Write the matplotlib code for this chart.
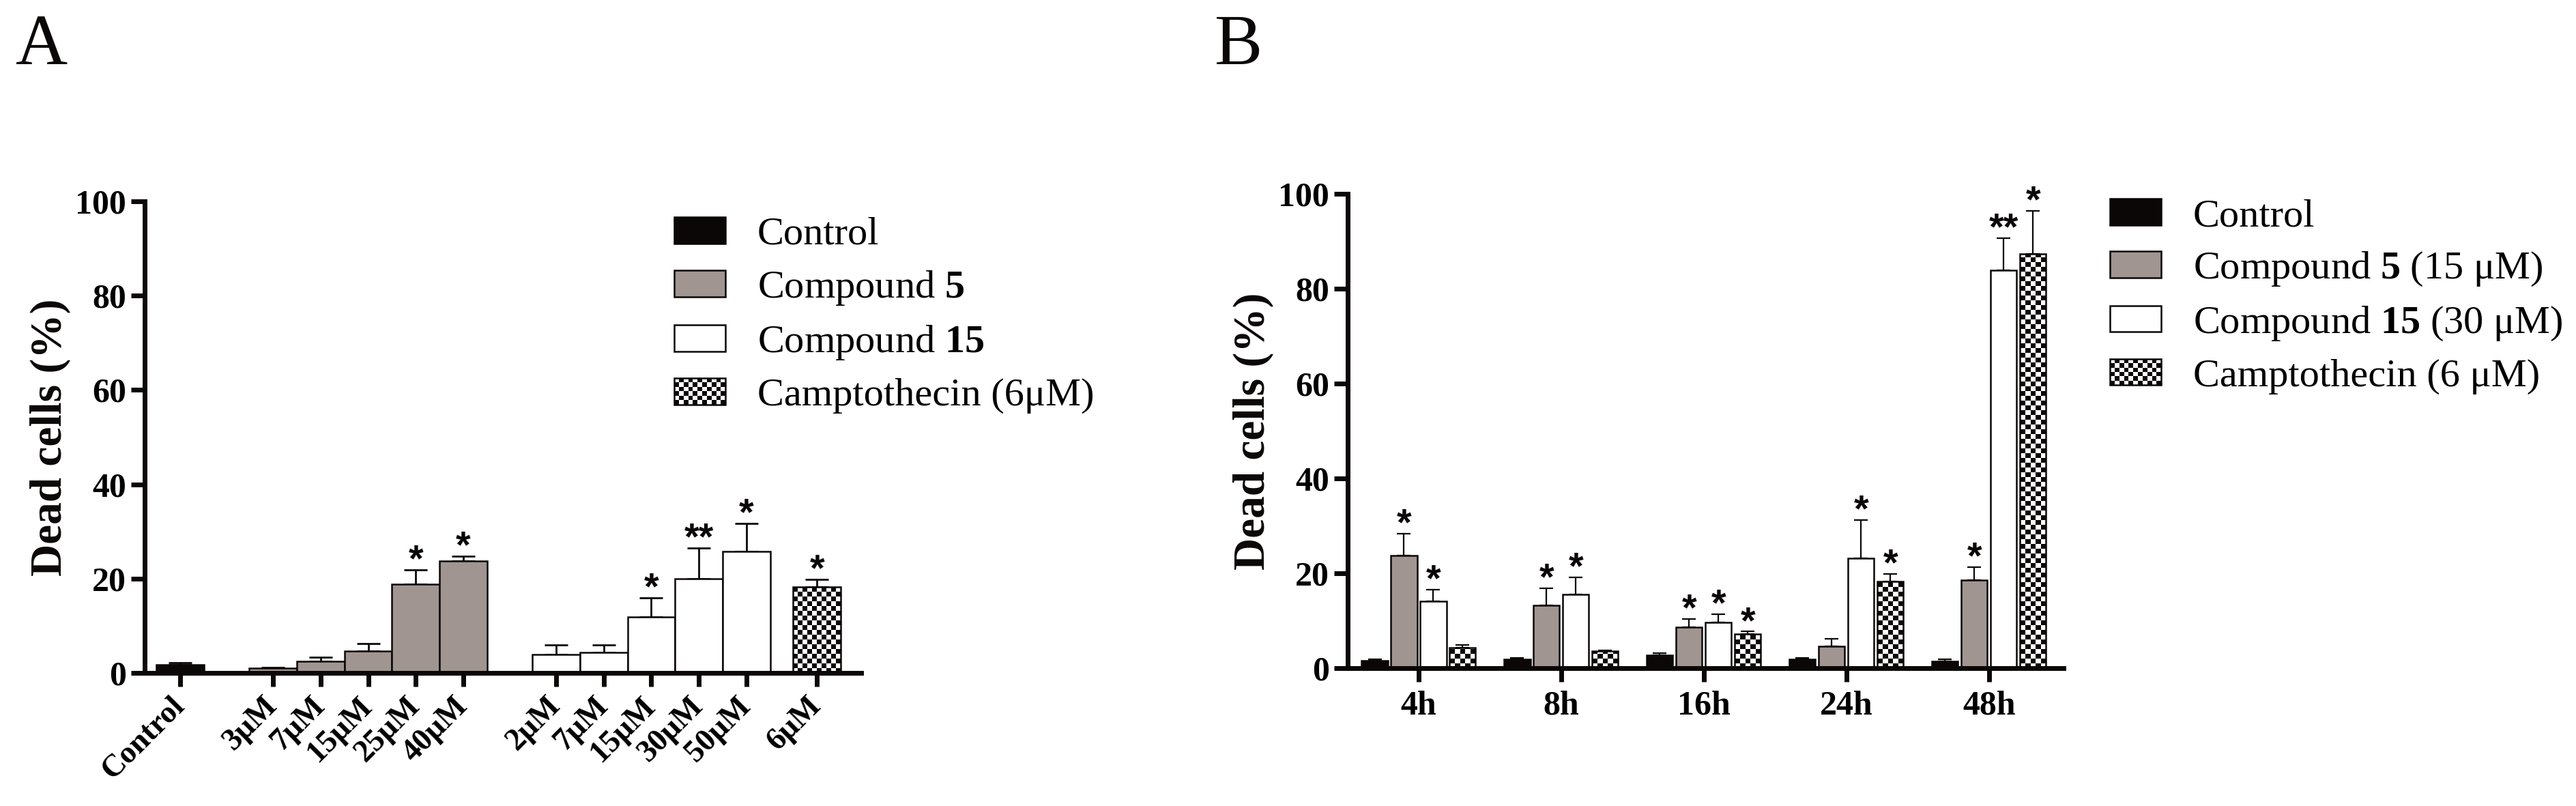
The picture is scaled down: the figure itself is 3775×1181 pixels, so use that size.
import numpy as np
import matplotlib
matplotlib.use("Agg")
import matplotlib.pyplot as plt
from matplotlib.patches import Patch, Rectangle
from matplotlib.colors import ListedColormap
from matplotlib.legend_handler import HandlerBase

plt.rcParams["font.family"] = ["Liberation Serif", "DejaVu Serif"]
plt.rcParams["mathtext.fontset"] = "custom"
plt.rcParams["mathtext.rm"] = "Liberation Serif"
plt.rcParams["mathtext.bf"] = "Liberation Serif:bold"

INK = "#0b0707"
GRAY = "#a09591"

# ---- panel A data (dose response) ----
a_control_val = 1.8
a_control_err = 0.3
a_c5_labels = ["3μM", "7μM", "15μM", "25μM", "40μM"]
a_c5_vals = [1.0, 2.5, 4.7, 18.8, 23.7]
a_c5_err = [0.2, 0.9, 1.5, 3.0, 1.0]
a_c5_stars = ["", "", "", "*", "*"]
a_c15_labels = ["2μM", "7μM", "15μM", "30μM", "50μM"]
a_c15_vals = [3.9, 4.3, 11.9, 20.0, 25.7]
a_c15_err = [2.1, 1.7, 4.0, 6.5, 6.0]
a_c15_stars = ["", "", "*", "**", "*"]
a_campto_label = "6μM"
a_campto_val = 18.2
a_campto_err = 1.6
a_campto_star = "*"
a_legend = ["Control", r"Compound $\mathbf{5}$", r"Compound $\mathbf{15}$",
            "Camptothecin (6μM)"]

# ---- panel B data (time course) ----
b_times = ["4h", "8h", "16h", "24h", "48h"]
b_control = [1.6, 1.8, 2.7, 1.8, 1.4]
b_control_err = [0.3, 0.4, 0.5, 0.4, 0.4]
b_c5 = [23.8, 13.2, 8.6, 4.6, 18.6]
b_c5_err = [4.6, 3.7, 1.8, 1.6, 2.7]
b_c15 = [14.1, 15.5, 9.6, 23.1, 83.9]
b_c15_err = [2.4, 3.7, 1.8, 8.1, 6.8]
b_campto = [4.3, 3.6, 7.2, 18.3, 87.4]
b_campto_err = [0.6, 0.2, 0.5, 1.6, 9.0]
b_stars = [
    ["", "", "", "", ""],
    ["*", "*", "*", "", "*"],
    ["*", "*", "*", "*", "**"],
    ["", "", "*", "*", "*"],
]
b_legend = ["Control", r"Compound $\mathbf{5}$ (15 μM)",
            r"Compound $\mathbf{15}$ (30 μM)", "Camptothecin (6 μM)"]

yticks = [0, 20, 40, 60, 80, 100]


class CheckerProxy(Patch):
    pass


class CheckerHandler(HandlerBase):
    def create_artists(self, legend, orig_handle, xdescent, ydescent,
                       width, height, fontsize, trans):
        cell = 5.0
        nx = max(1, int(round(width / cell)))
        ny = max(1, int(round(height / cell)))
        cw, ch = width / nx, height / ny
        x0, y0 = -xdescent, -ydescent
        arts = [Rectangle((x0, y0), width, height, facecolor="white",
                          edgecolor="none", transform=trans)]
        for i in range(ny):
            for j in range(nx):
                if (i + j) % 2 == 0:
                    arts.append(Rectangle((x0 + j * cw, y0 + i * ch), cw, ch,
                                          facecolor=INK, edgecolor="none",
                                          transform=trans))
        arts.append(Rectangle((x0, y0), width, height, fill=False,
                              edgecolor=INK, linewidth=1.8, transform=trans))
        return arts


def checker_bars(ax, xs, heights, width, lw, cell_px=7.0):
    bars = ax.bar(xs, heights, width, color="white", edgecolor="none", zorder=2)
    p0 = ax.transData.transform((0, 0))
    p1 = ax.transData.transform((1, 1))
    cx = cell_px / (p1[0] - p0[0])
    cy = cell_px / (p1[1] - p0[1])
    cmap = ListedColormap(["white", INK])
    for bar in bars:
        x0, w, h = bar.get_x(), bar.get_width(), bar.get_height()
        nx = max(1, int(round(w / cx)))
        ny = max(1, int(np.ceil(h / cy)))
        xe = np.linspace(x0, x0 + w, nx + 1)
        ye = np.arange(ny + 1) * cy
        cells = np.add.outer(np.arange(ny), np.arange(nx)) % 2
        mesh = ax.pcolormesh(xe, ye, cells, cmap=cmap, vmin=0, vmax=1,
                             shading="flat", zorder=2.1)
        mesh.set_clip_path(bar)
    ax.bar(xs, heights, width, fill=False, edgecolor=INK, linewidth=lw, zorder=3)


def up_errors(ax, xs, vals, errs, lw, cap):
    ax.errorbar(xs, vals, yerr=[np.zeros(len(errs)), errs], fmt="none",
                ecolor=INK, elinewidth=lw, capsize=cap, capthick=lw, zorder=1.5)


def add_stars(ax, xs, tops, marks, size):
    for x, t, m in zip(xs, tops, marks):
        if m:
            ax.annotate(m, (x, t), xytext=(0, -1), textcoords="offset points",
                        ha="center", va="baseline", fontsize=size,
                        family="Liberation Sans", fontweight="bold", color=INK)


def style_axes(ax):
    for s in ["top", "right"]:
        ax.spines[s].set_visible(False)
    for s in ["left", "bottom"]:
        ax.spines[s].set_linewidth(5)
        ax.spines[s].set_color(INK)
    ax.tick_params(axis="both", direction="out", length=14.4, width=5, color=INK)
    ax.tick_params(axis="y", pad=5, labelsize=36)
    ax.set_ylim(0, 100)
    ax.set_yticks(yticks)
    for lab in ax.get_yticklabels():
        lab.set_fontweight("bold")
    ax.set_ylabel("Dead cells (%)", fontsize=47, fontweight="bold", color=INK)
    ax.yaxis.set_label_coords(-0.103, 0.5)


def legend(ax, labels, x_px, y_px):
    handles = [Patch(facecolor=INK, edgecolor=INK, linewidth=1.8),
               Patch(facecolor=GRAY, edgecolor=INK, linewidth=1.8),
               Patch(facecolor="white", edgecolor=INK, linewidth=1.8),
               CheckerProxy()]
    ax.legend(handles, labels, handler_map={CheckerProxy: CheckerHandler()},
              loc="upper left", bbox_to_anchor=(x_px / 3775, 1 - y_px / 1181),
              bbox_transform=ax.figure.transFigure, frameon=False, fontsize=42,
              borderpad=0, borderaxespad=0, handlelength=1.29, handleheight=0.64,
              handletextpad=0.8, labelspacing=0.41)


fig = plt.figure(figsize=(37.75, 11.81), dpi=100)

# ---------------- panel A ----------------
axA = fig.add_axes([0.05616, 0.16511, 0.27815, 0.58510])
c5_gap_start = 1.95
c15_gap_start = 7.9
campto_pos = 13.38
x_ctrl = np.array([0.0])
x_c5 = c5_gap_start + np.arange(len(a_c5_vals))
x_c15 = c15_gap_start + np.arange(len(a_c15_vals))
x_cam = np.array([campto_pos])
axA.set_xlim(-0.746, 14.31)
style_axes(axA)

bw = 1.0
axA.bar(x_ctrl, [a_control_val], bw, color=INK, edgecolor=INK, linewidth=1.8, zorder=2)
axA.bar(x_c5, a_c5_vals, bw, color=GRAY, edgecolor=INK, linewidth=1.8, zorder=2)
axA.bar(x_c15, a_c15_vals, bw, color="white", edgecolor=INK, linewidth=1.8, zorder=2)
checker_bars(axA, x_cam, [a_campto_val], bw, 1.8)
up_errors(axA, x_ctrl, [a_control_val], [a_control_err], 2, 12)
up_errors(axA, x_c5, a_c5_vals, a_c5_err, 2, 12)
up_errors(axA, x_c15, a_c15_vals, a_c15_err, 2, 12)
up_errors(axA, x_cam, [a_campto_val], [a_campto_err], 2, 12)
add_stars(axA, x_c5, np.add(a_c5_vals, a_c5_err), a_c5_stars, 40)
add_stars(axA, x_c15, np.add(a_c15_vals, a_c15_err), a_c15_stars, 40)
add_stars(axA, x_cam, [a_campto_val + a_campto_err], [a_campto_star], 40)

axA.set_xticks(np.concatenate([x_ctrl, x_c5, x_c15, x_cam]))
axA.set_xticklabels(["Control"] + a_c5_labels + a_c15_labels + [a_campto_label],
                    rotation=45, ha="right", va="center", rotation_mode="anchor",
                    fontsize=33, fontweight="bold")
axA.tick_params(axis="x", pad=16)
axA.set_xlim(-0.746, 14.31)
axA.set_ylim(0, 100)
legend(axA, a_legend, 988, 318)

# ---------------- panel B ----------------
axB = fig.add_axes([0.52318, 0.17104, 0.27788, 0.58848])
axB.set_xlim(-0.4976, 4.522)
style_axes(axB)
gx = np.arange(len(b_times))
pitch = 0.2057
bwB = 0.182
series = [(b_control, b_control_err, INK),
          (b_c5, b_c5_err, GRAY),
          (b_c15, b_c15_err, "white"),
          (b_campto, b_campto_err, None)]
for k, (vals, errs, col) in enumerate(series):
    xs = gx + (k - 1.5) * pitch
    if col is None:
        checker_bars(axB, xs, vals, bwB, 1.8)
    else:
        axB.bar(xs, vals, bwB, color=col, edgecolor=INK, linewidth=1.8, zorder=2)
    up_errors(axB, xs, vals, errs, 1.6, 7)
    add_stars(axB, xs, np.add(vals, errs), b_stars[k], 40)

axB.set_xticks(gx)
axB.set_xticklabels(b_times, fontsize=36, fontweight="bold")
axB.tick_params(axis="x", pad=9)
axB.set_xlim(-0.4976, 4.522)
axB.set_ylim(0, 100)
legend(axB, b_legend, 3092, 291)

fig.text(23 / 3775, 1 - 94 / 1181, "A", fontsize=76, ha="left", va="baseline", color=INK)
fig.text(1780 / 3775, 1 - 94 / 1181, "B", fontsize=76, ha="left", va="baseline", color=INK)

fig.savefig("out.png", dpi=100, facecolor="white")
